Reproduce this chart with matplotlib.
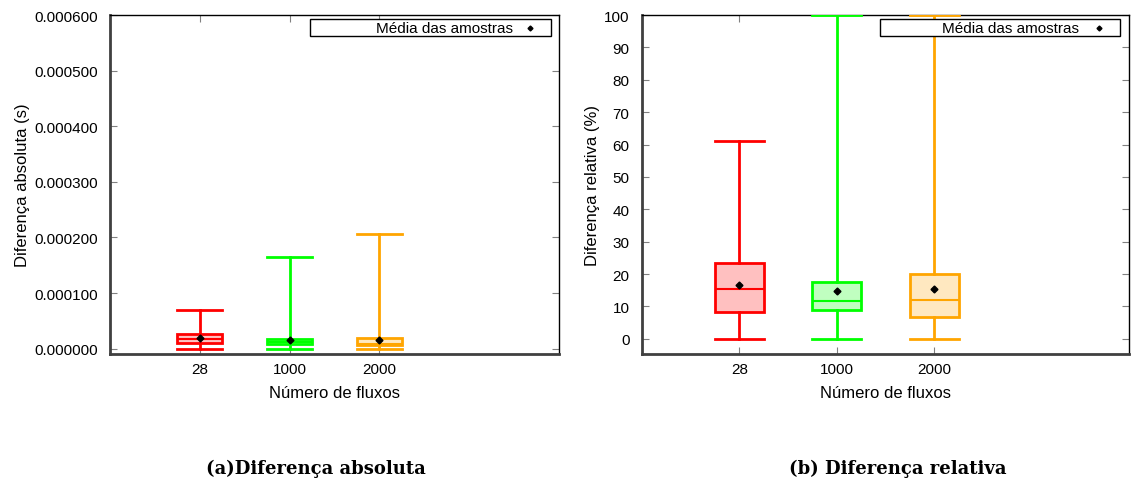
import matplotlib
matplotlib.use("Agg")
import matplotlib.pyplot as plt
from matplotlib.patches import Rectangle
from matplotlib.ticker import FormatStrFormatter

plt.rcParams['font.family'] = ['Liberation Sans', 'DejaVu Sans']

categorias = ['28', '1000', '2000']
cores = ['#ff0000', '#00ff00', '#ffa500']
preench = ['#ffc0c0', '#c0ffc0', '#ffe8c0']

# diferenca absoluta (s)
abs_min = [0.0, 0.0, 0.0]
abs_q1 = [0.0000100, 0.0000094, 0.0000063]
abs_med = [0.0000184, 0.0000120, 0.0000094]
abs_q3 = [0.0000267, 0.0000184, 0.0000200]
abs_max = [0.0000700, 0.0001650, 0.0002070]
abs_media = [0.0000190, 0.0000153, 0.0000153]

# diferenca relativa (%)
rel_min = [0.0, 0.0, 0.0]
rel_q1 = [8.4, 8.9, 6.8]
rel_med = [15.4, 11.7, 11.9]
rel_q3 = [23.4, 17.4, 20.0]
rel_max = [61.0, 100.0, 100.0]
rel_media = [16.5, 14.9, 15.4]


def caixas(ax, mn, q1, med, q3, mx, media):
    for i in range(len(categorias)):
        st = [dict(whislo=mn[i], q1=q1[i], med=med[i], q3=q3[i],
                   whishi=mx[i], mean=media[i], fliers=[])]
        ax.bxp(st, positions=[i + 1], widths=0.5, showmeans=True,
               patch_artist=True, manage_ticks=False,
               boxprops=dict(facecolor=preench[i], edgecolor=cores[i], linewidth=2),
               medianprops=dict(color=cores[i], linewidth=1.5),
               whiskerprops=dict(color=cores[i], linewidth=2),
               capprops=dict(color=cores[i], linewidth=2),
               capwidths=0.5,
               meanprops=dict(marker='D', markerfacecolor='black',
                              markeredgecolor='black', markersize=3.5),
               zorder=3)
    ax.set_xlim(0, 5)
    ax.set_xticks([1, 2, 3])
    ax.set_xticklabels(categorias)
    ax.set_xlabel('Número de fluxos', fontsize=12, labelpad=6)
    ax.tick_params(direction='in', top=True, right=True, labelsize=11,
                   color='#808080', length=5)
    ax.tick_params(axis='y', pad=9)
    ax.tick_params(axis='x', pad=6)
    for s in ['left', 'bottom']:
        ax.spines[s].set_linewidth(2)
        ax.spines[s].set_color('#404040')
    for s in ['top', 'right']:
        ax.spines[s].set_linewidth(1)
        ax.spines[s].set_color('black')


def legenda(ax, x0, x1, xt, xm):
    ax.add_patch(Rectangle((x0, 0.938), x1 - x0, 0.05, transform=ax.transAxes,
                           facecolor='white', edgecolor='black', linewidth=1,
                           zorder=5, clip_on=False))
    ax.text(xt, 0.963, 'Média das amostras', transform=ax.transAxes,
            ha='right', va='center', fontsize=11, zorder=6)
    ax.plot([xm], [0.963], marker='D', color='black', markersize=2.5,
            transform=ax.transAxes, zorder=6, clip_on=False)


fig = plt.figure(figsize=(11.31, 4.85), dpi=100)
ax1 = fig.add_axes([0.0973, 0.268, 0.397, 0.699])
ax2 = fig.add_axes([0.5676, 0.268, 0.4306, 0.699])

caixas(ax1, abs_min, abs_q1, abs_med, abs_q3, abs_max, abs_media)
ax1.set_ylim(-0.0000095, 0.0006)
ax1.set_yticks([0, 0.0001, 0.0002, 0.0003, 0.0004, 0.0005, 0.0006])
ax1.yaxis.set_major_formatter(FormatStrFormatter('%.6f'))
ax1.set_ylabel('Diferença absoluta (s)', fontsize=12, labelpad=3)
legenda(ax1, 0.445, 0.982, 0.898, 0.935)

caixas(ax2, rel_min, rel_q1, rel_med, rel_q3, rel_max, rel_media)
ax2.set_ylim(-4.7, 100)
ax2.set_yticks(range(0, 101, 10))
ax2.set_ylabel('Diferença relativa (%)', fontsize=12, labelpad=3)
legenda(ax2, 0.489, 0.9815, 0.897, 0.938)

fig.text(0.2794, 0.033, '(a)Diferença absoluta', ha='center', va='center',
         fontsize=13, fontweight='bold', family='DejaVu Serif')
fig.text(0.794, 0.033, '(b) Diferença relativa', ha='center', va='center',
         fontsize=13, fontweight='bold', family='DejaVu Serif')

fig.savefig('out.png', dpi=100)
